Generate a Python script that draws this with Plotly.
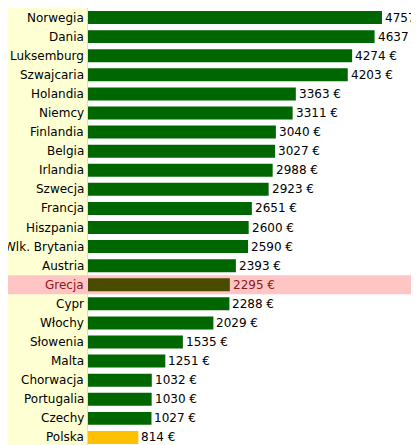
import plotly.graph_objects as go

countries = ["Norwegia", "Dania", "Luksemburg", "Szwajcaria", "Holandia", "Niemcy",
             "Finlandia", "Belgia", "Irlandia", "Szwecja", "Francja", "Hiszpania",
             "Wlk. Brytania", "Austria", "Grecja", "Cypr", "Włochy", "Słowenia",
             "Malta", "Chorwacja", "Portugalia", "Czechy", "Polska"]
values = [4757, 4637, 4274, 4203, 3363, 3311, 3040, 3027, 2988, 2923, 2651, 2600,
          2590, 2393, 2295, 2288, 2029, 1535, 1251, 1032, 1030, 1027, 814]

colors = []
text_colors = []
for c in countries:
    if c == "Grecja":
        colors.append("#4a4a00")
        text_colors.append("#8b1a1a")
    elif c == "Polska":
        colors.append("#ffc000")
        text_colors.append("black")
    else:
        colors.append("#006600")
        text_colors.append("black")

fig = go.Figure(go.Bar(
    x=values, y=countries, orientation="h", width=0.68,
    marker=dict(color=colors, line=dict(width=0)),
))

W, L = 419, 80
pw = W - L
grecja = countries.index("Grecja")
shapes = [
    dict(type="rect", xref="paper", yref="paper", x0=-L / pw, x1=-0.003, y0=0, y1=1,
         fillcolor="#ffffd4", line_width=0, layer="below"),
    dict(type="rect", xref="paper", yref="y", x0=-L / pw, x1=1,
         y0=grecja - 0.5, y1=grecja + 0.5,
         fillcolor="#ffc4c4", line_width=0, layer="below"),
]
font = "DejaVu Sans"
annotations = [
    dict(x=-0.006, xref="paper", y=c, yref="y", text=c, showarrow=False,
         xanchor="right", font=dict(size=12, family=font, color=tc))
    for c, tc in zip(countries, text_colors)
] + [
    dict(x=v, xref="x", y=c, yref="y", text=f"{v} €", showarrow=False,
         xanchor="left", xshift=1, font=dict(size=12, family=font, color=tc))
    for c, v, tc in zip(countries, values, text_colors)
]

fig.update_layout(
    width=W, height=445, margin=dict(l=L, r=0, t=0, b=6, autoexpand=False),
    paper_bgcolor="#d4e4cc", plot_bgcolor="white",
    shapes=shapes, annotations=annotations, showlegend=False,
    xaxis=dict(range=[0, pw / 0.0618], visible=False, automargin=False),
    yaxis=dict(autorange=False, range=[len(countries) - 0.5, -0.5], showticklabels=False,
               showgrid=False, zeroline=False, automargin=False),
)
fig.write_html("out.html")
